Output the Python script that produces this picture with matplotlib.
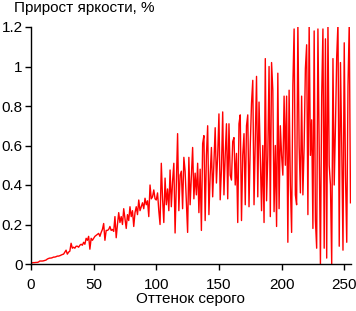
import matplotlib
matplotlib.use('Agg')
import matplotlib.pyplot as plt
import numpy as np

plt.rcParams['font.family'] = ['Liberation Sans', 'DejaVu Sans']

# brightness increment per gray level
shade = np.arange(256)
increment = [
    0.005, 0.006, 0.007, 0.007, 0.008, 0.008, 0.01, 0.015, 0.015, 0.015, 0.016, 0.018, 0.02, 0.025, 0.028, 0.03,
    0.03, 0.032, 0.035, 0.035, 0.037, 0.04, 0.04, 0.042, 0.045, 0.048, 0.05, 0.06, 0.07, 0.05, 0.06, 0.065,
    0.105, 0.08, 0.085, 0.08, 0.09, 0.09, 0.085, 0.095, 0.1, 0.095, 0.11, 0.1, 0.13, 0.12, 0.14, 0.075,
    0.13, 0.12, 0.13, 0.14, 0.145, 0.15, 0.155, 0.14, 0.16, 0.175, 0.205, 0.12, 0.17, 0.17, 0.175, 0.19,
    0.17, 0.175, 0.165, 0.24, 0.133, 0.2, 0.26, 0.21, 0.24, 0.2, 0.28, 0.23, 0.18, 0.25, 0.22, 0.29,
    0.24, 0.27, 0.19, 0.26, 0.29, 0.25, 0.324, 0.27, 0.29, 0.31, 0.28, 0.333, 0.3, 0.32, 0.24, 0.40,
    0.33, 0.34, 0.375, 0.33, 0.324, 0.36, 0.27, 0.2, 0.51, 0.33, 0.21, 0.435, 0.30, 0.38, 0.27, 0.476,
    0.29, 0.42, 0.51, 0.157, 0.40, 0.66, 0.27, 0.45, 0.47, 0.28, 0.54, 0.47, 0.31, 0.16, 0.54, 0.30,
    0.45, 0.59, 0.33, 0.46, 0.35, 0.51, 0.26, 0.48, 0.17, 0.61, 0.65, 0.22, 0.55, 0.70, 0.25, 0.45,
    0.59, 0.34, 0.52, 0.69, 0.41, 0.55, 0.76, 0.325, 0.48, 0.77, 0.35, 0.55, 0.71, 0.33, 0.71, 0.45,
    0.425, 0.62, 0.64, 0.40, 0.56, 0.21, 0.71, 0.755, 0.22, 0.55, 0.66, 0.30, 0.70, 0.755, 0.29, 0.60,
    0.815, 0.93, 0.30, 0.62, 0.95, 0.34, 0.82, 0.55, 0.27, 0.60, 0.21, 1.04, 0.32, 0.55, 1.0, 0.24,
    1.02, 0.88, 0.265, 0.60, 0.19, 0.966, 0.28, 0.70, 0.55, 0.45, 0.85, 0.50, 0.85, 0.11, 0.88, 0.40,
    0.16, 0.906, 1.19, 0.35, 0.30, 1.22, 0.60, 0.36, 0.85, 0.35, 0.60, 0.99, 1.11, 0.25, 1.22, 0.55,
    0.73, 0.18, 1.18, 0.22, 0.08, 1.19, 0.60, 0.0, 0.85, 1.19, 0.08, 1.14, 0.03, 1.22, 0.50, 0.40,
    0.0, 1.04, 0.40, 0.70, 1.05, 1.22, 0.09, 1.02, 0.60, 0.07, 1.12, 0.45, 0.11, 0.90, 1.22, 0.31,
]

fig = plt.figure(figsize=(3.56, 3.11), dpi=100)
ax = fig.add_axes([31 / 356, 47 / 311, 319.5 / 356, 237 / 311])

ax.plot(shade, increment, color='#ff0000', linewidth=1.0)

ax.set_xlim(0, 255)
ax.set_ylim(0, 1.2)
ax.set_xticks([0, 50, 100, 150, 200, 250])
ax.set_yticks([0, 0.2, 0.4, 0.6, 0.8, 1.0, 1.2])
ax.set_yticklabels(['0', '0.2', '0.4', '0.6', '0.8', '1', '1.2'])

for side in ['top', 'right']:
    ax.spines[side].set_visible(False)
for side in ['left', 'bottom']:
    ax.spines[side].set_linewidth(1.0)
ax.tick_params(direction='out', length=4, width=1, labelsize=11)
ax.tick_params(axis='y', pad=2)
ax.tick_params(axis='x', pad=6)

ax.set_xlabel('Оттенок серого', fontsize=11, labelpad=0)
fig.text(14 / 356, 1 - 1 / 311, 'Прирост яркости, %', fontsize=11, ha='left', va='top')

fig.savefig('out.png', dpi=100)
